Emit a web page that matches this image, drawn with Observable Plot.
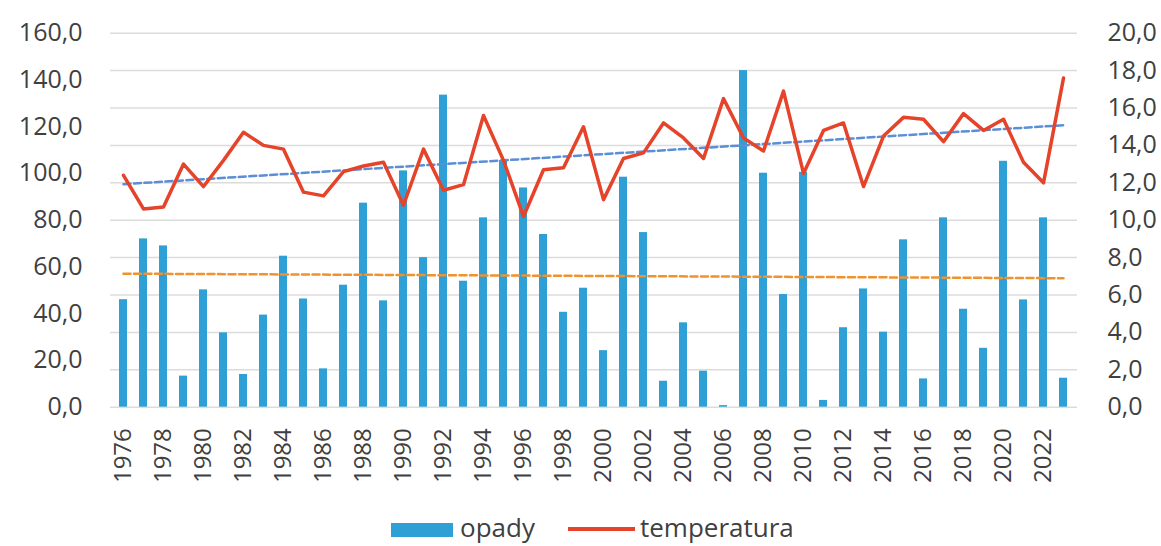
<!DOCTYPE html>
<html>
<head>
<meta charset="utf-8">
<script src="https://cdn.jsdelivr.net/npm/d3@7"></script>
<script src="https://cdn.jsdelivr.net/npm/@observablehq/plot@0.6"></script>
<style>
  body { margin: 0; background: #fff; font-family: "Open Sans", sans-serif; }
  #legend { position: relative; width: 1161px; height: 40px; color: #404040; font-size: 26px; }
  #legend .sw { position: absolute; left: 391px; top: 17px; width: 62px; height: 14px; background: #2FA0D6; }
  #legend .ln { position: absolute; left: 568px; top: 21px; width: 67px; height: 3.5px; background: #E5432A; }
  #legend .t { position: absolute; top: 8px; line-height: 26px; white-space: nowrap; }
</style>
</head>
<body>
<div id="chart"></div>
<div id="legend">
  <div class="sw"></div><span class="t" style="left:460px">opady</span>
  <div class="ln"></div><span class="t" style="left:640px">temperatura</span>
</div>
<script>
const years = [1976,1977,1978,1979,1980,1981,1982,1983,1984,1985,1986,1987,1988,1989,1990,1991,
  1992,1993,1994,1995,1996,1997,1998,1999,2000,2001,2002,2003,2004,2005,2006,2007,
  2008,2009,2010,2011,2012,2013,2014,2015,2016,2017,2018,2019,2020,2021,2022,2023];
const opady = [46.0,72.0,69.0,13.3,50.2,31.8,14.0,39.4,64.6,46.3,16.4,52.2,87.3,45.5,101.1,64.0,
  133.5,53.9,81.0,105.5,93.8,73.9,40.6,50.9,24.2,98.4,74.7,11.1,36.1,15.4,0.7,144.0,
  100.1,48.2,100.5,2.9,34.0,50.6,32.1,71.6,12.1,81.0,41.9,25.2,105.2,45.9,81.0,12.4];
const temperatura = [12.4,10.6,10.7,13.0,11.8,13.2,14.7,14.0,13.8,11.5,11.3,12.6,12.9,13.1,10.8,13.8,
  11.6,11.9,15.6,13.2,10.2,12.7,12.8,15.0,11.1,13.3,13.6,15.2,14.4,13.3,16.5,14.4,
  13.7,16.9,12.5,14.8,15.2,11.8,14.5,15.5,15.4,14.2,15.7,14.8,15.4,13.1,12.0,17.6];
const leftTicks = [0,20,40,60,80,100,120,140,160];
const rightTicks = [0,2,4,6,8,10,12,14,16,18,20];
const xTicks = [1976,1978,1980,1982,1984,1986,1988,1990,1992,1994,1996,1998,2000,2002,2004,
  2006,2008,2010,2012,2014,2016,2018,2020,2022];

const K = 160 / 20; // right axis -> left axis units
const rows = years.map((y, i) => ({year: y, opady: opady[i], temp: temperatura[i]}));

function fit(xs, ys) {
  const mx = d3.mean(xs), my = d3.mean(ys);
  let sxy = 0, sxx = 0;
  xs.forEach((x, i) => { sxy += (x - mx) * (ys[i] - my); sxx += (x - mx) * (x - mx); });
  const b = sxy / sxx;
  return [my - b * mx, b];
}
const [ao, bo] = fit(years, opady);
const [at, bt] = fit(years, temperatura);
const ends = [years[0], years[years.length - 1]];
const trendO = ends.map(y => ({year: y, v: ao + bo * y}));
const trendT = ends.map(y => ({year: y, v: (at + bt * y) * K}));

const fmt = d => d.toFixed(1).replace(".", ",");

const chart = Plot.plot({
  width: 1161,
  height: 506,
  marginLeft: 110,
  marginRight: 84,
  marginTop: 32.7,
  marginBottom: 99.3,
  style: {fontFamily: "Open Sans", fontSize: "25px", color: "#404040", background: "#fff"},
  x: {type: "band", domain: years, paddingInner: 0.58, paddingOuter: 0.29},
  y: {domain: [0, 160]},
  marks: [
    Plot.ruleY(rightTicks.map(t => t * K), {stroke: "#dcdcdc", strokeWidth: 1.5}),
    Plot.barY(rows, {x: "year", y: "opady", fill: "#2FA0D6"}),
    Plot.line(trendO, {x: "year", y: "v", stroke: "#F0922E", strokeWidth: 2.5, strokeDasharray: "7,3.5"}),
    Plot.line(trendT, {x: "year", y: "v", stroke: "#5B8ED6", strokeWidth: 2.5, strokeDasharray: "7,3.5"}),
    Plot.line(rows, {x: "year", y: d => d.temp * K, stroke: "#E5432A", strokeWidth: 3.5, strokeLinejoin: "round"}),
    Plot.axisY(leftTicks, {anchor: "left", tickSize: 0, tickPadding: 28, tickFormat: fmt, label: null, fontSize: 25}),
    Plot.axisY(rightTicks.map(t => t * K), {anchor: "right", tickSize: 0, tickPadding: 30, tickFormat: d => fmt(d / K), label: null, fontSize: 25}),
    Plot.axisX(xTicks, {anchor: "bottom", tickSize: 0, tickPadding: 21, tickRotate: -90, tickFormat: d => String(d), label: null, fontSize: 24})
  ]
});
document.getElementById("chart").appendChild(chart);
</script>
</body>
</html>
